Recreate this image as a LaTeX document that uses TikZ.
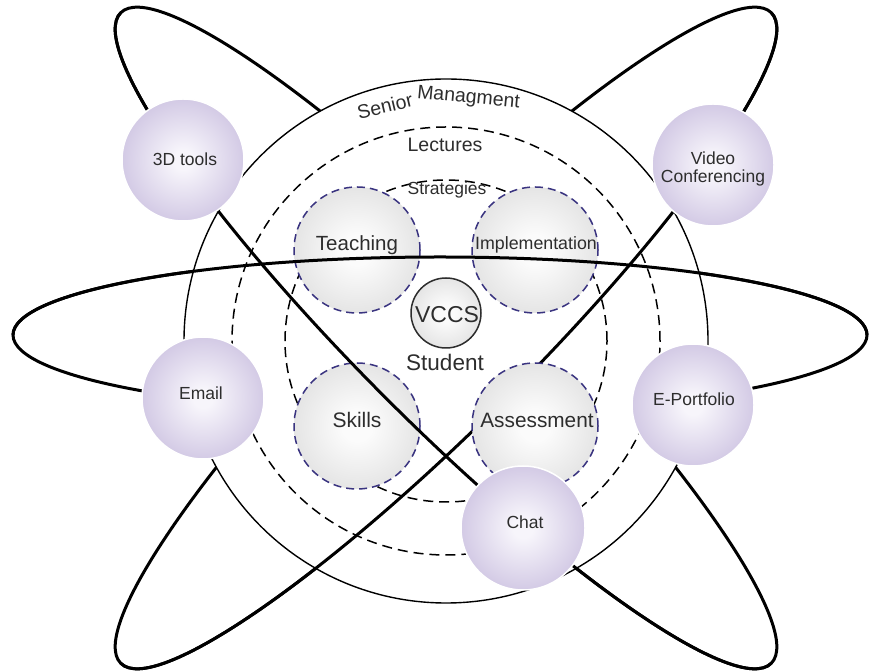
\documentclass[tikz,border=0pt]{standalone}
\usepackage{fontspec}
\setmainfont{Liberation Sans}

\definecolor{ink}{RGB}{45,45,45}
\definecolor{satin}{RGB}{247,245,251}
\definecolor{satout}{RGB}{211,202,229}
\definecolor{discin}{RGB}{251,251,251}
\definecolor{discout}{RGB}{229,229,229}
\definecolor{navy}{RGB}{58,52,128}

\pgfdeclareradialshading{satshade}{\pgfpoint{0bp}{0bp}}%
  {color(0bp)=(satin); color(4bp)=(satin); color(25bp)=(satout); color(50bp)=(satout)}
\pgfdeclareradialshading{discshade}{\pgfpoint{0bp}{0bp}}%
  {color(0bp)=(discin); color(6bp)=(discin); color(25bp)=(discout); color(50bp)=(discout)}

\tikzset{
  orbit/.style={line width=3pt, black},
  ring/.style={line width=1.4pt, black},
  dashring/.style={line width=1.5pt, black, dash pattern=on 10pt off 6pt},
  sat/.style={circle, minimum size=122pt, inner sep=0pt, shade, shading=satshade,
    draw=white, line width=1.5pt},
  topic/.style={circle, minimum size=126pt, inner sep=0pt, shade, shading=discshade,
    draw=navy, line width=1.5pt, dash pattern=on 8pt off 5pt},
  hub/.style={circle, minimum size=70pt, inner sep=0pt, shade, shading=discshade,
    draw=ink, line width=1.5pt},
  lbl/.style={inner sep=0pt, anchor=base, text=ink},
  satlbl/.style={lbl, font=\fontsize{17.5pt}{18pt}\selectfont},
  ringlbl/.style={lbl, font=\fontsize{19.5pt}{20pt}\selectfont},
}

\begin{document}
\begin{tikzpicture}[x=1pt, y=1pt]
\useasboundingbox (0,0) rectangle (869,671);
\fill[white] (0,0) rectangle (869,671);

\coordinate (C) at (446,330);   % centre of the rings
\coordinate (E) at (446,333);   % centre of the tilted orbits
\coordinate (H) at (440,336);   % centre of the flat orbit

% complete orbits (their far halves get hidden by the disc)
\draw[orbit] (H) ellipse [x radius=427, y radius=78];
\draw[orbit, rotate around={-45:(E)}] (E) ellipse [x radius=460, y radius=85];
\draw[orbit, rotate around={45:(E)}] (E) ellipse [x radius=460, y radius=85];

% disc and rings
\draw[ring, fill=white] (C) circle [radius=262];
\draw[dashring] (C) circle [radius=214];
\draw[dashring] (C) circle [radius=161];

% ring titles, the outer one bent along its ring
\node[ringlbl, rotate=13.5] (senior) at ([shift={(104.6:236)}]C) {Senior};
\node[ringlbl, rotate=-5.3] (managment) at ([shift={(84.7:239)}]C) {Managment};
\node[ringlbl] (lectures) at (445,519) {Lectures};
\node[lbl, font=\fontsize{17.5pt}{18pt}\selectfont] (strategies) at (447,476) {Strategies};

% topic discs
\node[topic] (teach) at (357,421) {};
\node[lbl, font=\fontsize{20.5pt}{21pt}\selectfont] (teachT) at (357,420) {Teaching};
\node[topic] (impl) at (535,421) {};
\node[lbl, font=\fontsize{17.8pt}{18pt}\selectfont] (implT) at (536,421) {Implementation};
\node[topic] (skills) at (357,245) {};
\node[lbl, font=\fontsize{21pt}{21pt}\selectfont] (skillsT) at (357,243) {Skills};

% hub
\node[hub] (vccs) at (446,358) {};
\node[lbl, font=\fontsize{23pt}{23pt}\selectfont] (vccsT) at (447,348) {VCCS};
\node[lbl, font=\fontsize{22.5pt}{23pt}\selectfont] (student) at (445,300) {Student};

% near halves of the orbits
\draw[orbit] (H) ++(427,0) arc [start angle=0, end angle=180, x radius=427, y radius=78];
\draw[orbit, shift={(446,333)}, rotate=-45] (-460,0)
  arc [start angle=180, end angle=360, x radius=460, y radius=85];
\draw[orbit, shift={(446,333)}, rotate=45] (-460,0)
  arc [start angle=180, end angle=360, x radius=460, y radius=85];

\node[topic] (assess) at (535,245) {};
\node[lbl, font=\fontsize{20.8pt}{21pt}\selectfont] (assessT) at (537,243) {Assessment};

% tools around the disc
\node[sat] (tools) at (183,511) {};
\node[satlbl] (toolsT) at (185,505) {3D tools};
\node[sat] (video) at (713,506) {};
\node[satlbl] (videoA) at (713,506) {Video};
\node[satlbl] (videoB) at (713,488) {Conferencing};
\node[sat] (email) at (203,273) {};
\node[satlbl] (emailT) at (201,271) {Email};
\node[sat] (eport) at (693,266) {};
\node[satlbl] (eportT) at (694,265) {E-Portfolio};
\node[sat, minimum size=124pt] (chat) at (523,143) {};
\node[satlbl] (chatT) at (525,142) {Chat};
\end{tikzpicture}
\end{document}
